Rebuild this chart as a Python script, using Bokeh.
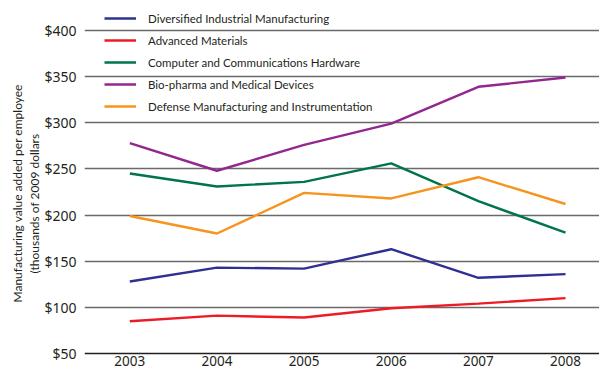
import math
from bokeh.plotting import figure
from bokeh.models import Legend, LegendItem, Title, FixedTicker, NumeralTickFormatter, Range1d, Span
from bokeh.core.properties import value
from bokeh.embed import file_html
from bokeh.resources import INLINE

years = [2003, 2004, 2005, 2006, 2007, 2008]
year_labels = ["2003", "2004", "2005", "2006", "2007", "2008"]
diversified = [128, 143, 142, 163, 132, 136]
advanced = [85, 91, 89, 99, 104, 110]
computer = [245, 231, 236, 256, 215, 181]
biopharma = [278, 248, 276, 299, 339, 349]
defense = [199, 180, 224, 218, 241, 212]

series_names = [
    "Diversified Industrial Manufacturing",
    "Advanced Materials",
    "Computer and Communications Hardware",
    "Bio-pharma and Medical Devices",
    "Defense Manufacturing and Instrumentation",
]
series_values = [diversified, advanced, computer, biopharma, defense]
colors = ["#2e3192", "#ed1c24", "#00744a", "#92278f", "#f7941d"]
y_ticks = [50, 100, 150, 200, 250, 300, 350, 400]
y_base = y_ticks[0]
y_title_1 = "Manufacturing value added per employee"
y_title_2 = "(thousands of 2009 dollars"

FONT = "Noto Sans"
NARROW = "Lato"

p = figure(width=599, height=372, output_backend="svg", toolbar_location=None,
           x_range=Range1d(2002.48, 2008.39), y_range=Range1d(29.4, 432.5),
           min_border_left=84, min_border_right=0, min_border_top=0, min_border_bottom=0)
p.outline_line_color = None
p.background_fill_color = "white"

renderers = []
for name, vals, c in zip(series_names, series_values, colors):
    r = p.line(years, vals, line_color=c, line_width=2.4)
    renderers.append((name, r))

# axes
p.yaxis.ticker = FixedTicker(ticks=y_ticks)
p.yaxis.formatter = NumeralTickFormatter(format="$0")
p.yaxis.axis_line_color = None
p.yaxis.major_tick_line_color = None
p.yaxis.minor_tick_line_color = None
p.yaxis.major_tick_out = 0
p.yaxis.major_label_text_font = FONT
p.yaxis.major_label_text_font_size = "14px"
p.yaxis.major_label_text_color = "#231f20"
p.yaxis.major_label_standoff = 8

p.xaxis.visible = False

p.xgrid.grid_line_color = None
p.ygrid.ticker = FixedTicker(ticks=y_ticks[1:])
p.ygrid.grid_line_color = "#6a6a6a"
p.ygrid.grid_line_width = 1.4

p.add_layout(Span(location=y_base, dimension="width", line_color="#231f20", line_width=1.5))

# x tick labels
p.text(x=years, y=[y_base] * len(years), text=year_labels, y_offset=3,
       text_align="center", text_baseline="top",
       text_font=value(FONT), text_font_size="13.5px", text_color="#231f20")

# y-axis title (two lines)
p.add_layout(Title(text=y_title_2, align="left", offset=99, standoff=0,
                   text_font=NARROW, text_font_size="12px", text_font_style="normal",
                   text_color="#231f20"), "left")
p.add_layout(Title(text=y_title_1, align="left", offset=70, standoff=0,
                   text_font=NARROW, text_font_size="12px", text_font_style="normal",
                   text_color="#231f20"), "left")

legend = Legend(items=[LegendItem(label=n, renderers=[r]) for n, r in renderers],
                location=(20, 255), padding=0, margin=0, spacing=0,
                glyph_width=32, glyph_height=22, label_height=22, label_standoff=12,
                label_text_font=NARROW, label_text_font_size="11.5px", label_text_color="#231f20",
                background_fill_alpha=0, border_line_color=None)
p.add_layout(legend)

open("out.html", "w").write(file_html(p, INLINE))
